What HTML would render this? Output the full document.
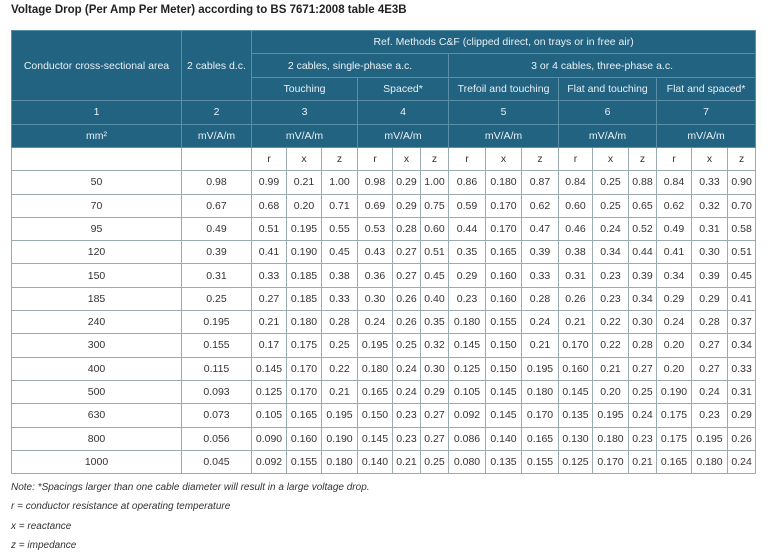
<!DOCTYPE html>
<html><head><meta charset="utf-8"><style>
body{margin:0;background:#fff;width:768px;height:555px;overflow:hidden;font-family:"Liberation Sans",sans-serif;color:#333;}
.title{position:absolute;left:11px;top:4px;font-size:11.5px;font-weight:bold;color:#222;}
table{position:absolute;left:11px;top:30px;border-collapse:collapse;table-layout:fixed;width:745px;font-size:10.5px;}
td{text-align:center;padding:0;white-space:nowrap;overflow:hidden;border:1px solid #9aabb0;}
tr.h td{background:#226382;color:#e8f0f4;border:1px solid #5b8fa8;}
tr.h{height:23.4px;}
tr.b{height:23.3px;}
.notes{position:absolute;left:11px;font-size:10px;font-style:italic;color:#333;}
</style></head><body>
<div class="title">Voltage Drop (Per Amp Per Meter) according to BS 7671:2008 table 4E3B</div>
<table>
<colgroup><col style="width:170px"><col style="width:70px"><col style="width:35px"><col style="width:35px"><col style="width:36px"><col style="width:35px"><col style="width:28px"><col style="width:28px"><col style="width:37px"><col style="width:36px"><col style="width:37px"><col style="width:34px"><col style="width:36px"><col style="width:28px"><col style="width:35px"><col style="width:36px"><col style="width:28px"></colgroup>
<tr class="h"><td rowspan="3">Conductor cross-sectional area</td><td rowspan="3">2 cables d.c.</td><td colspan="15">Ref. Methods C&amp;F (clipped direct, on trays or in free air)</td></tr>
<tr class="h"><td colspan="6">2 cables, single-phase a.c.</td><td colspan="9">3 or 4 cables, three-phase a.c.</td></tr>
<tr class="h"><td colspan="3">Touching</td><td colspan="3">Spaced*</td><td colspan="3">Trefoil and touching</td><td colspan="3">Flat and touching</td><td colspan="3">Flat and spaced*</td></tr>
<tr class="h"><td>1</td><td>2</td><td colspan="3">3</td><td colspan="3">4</td><td colspan="3">5</td><td colspan="3">6</td><td colspan="3">7</td></tr>
<tr class="h"><td>mm²</td><td>mV/A/m</td><td colspan="3">mV/A/m</td><td colspan="3">mV/A/m</td><td colspan="3">mV/A/m</td><td colspan="3">mV/A/m</td><td colspan="3">mV/A/m</td></tr>
<tr class="b"><td></td><td></td><td>r</td><td>x</td><td>z</td><td>r</td><td>x</td><td>z</td><td>r</td><td>x</td><td>z</td><td>r</td><td>x</td><td>z</td><td>r</td><td>x</td><td>z</td></tr>
<tr class="b"><td>50</td><td>0.98</td><td>0.99</td><td>0.21</td><td>1.00</td><td>0.98</td><td>0.29</td><td>1.00</td><td>0.86</td><td>0.180</td><td>0.87</td><td>0.84</td><td>0.25</td><td>0.88</td><td>0.84</td><td>0.33</td><td>0.90</td></tr>
<tr class="b"><td>70</td><td>0.67</td><td>0.68</td><td>0.20</td><td>0.71</td><td>0.69</td><td>0.29</td><td>0.75</td><td>0.59</td><td>0.170</td><td>0.62</td><td>0.60</td><td>0.25</td><td>0.65</td><td>0.62</td><td>0.32</td><td>0.70</td></tr>
<tr class="b"><td>95</td><td>0.49</td><td>0.51</td><td>0.195</td><td>0.55</td><td>0.53</td><td>0.28</td><td>0.60</td><td>0.44</td><td>0.170</td><td>0.47</td><td>0.46</td><td>0.24</td><td>0.52</td><td>0.49</td><td>0.31</td><td>0.58</td></tr>
<tr class="b"><td>120</td><td>0.39</td><td>0.41</td><td>0.190</td><td>0.45</td><td>0.43</td><td>0.27</td><td>0.51</td><td>0.35</td><td>0.165</td><td>0.39</td><td>0.38</td><td>0.34</td><td>0.44</td><td>0.41</td><td>0.30</td><td>0.51</td></tr>
<tr class="b"><td>150</td><td>0.31</td><td>0.33</td><td>0.185</td><td>0.38</td><td>0.36</td><td>0.27</td><td>0.45</td><td>0.29</td><td>0.160</td><td>0.33</td><td>0.31</td><td>0.23</td><td>0.39</td><td>0.34</td><td>0.39</td><td>0.45</td></tr>
<tr class="b"><td>185</td><td>0.25</td><td>0.27</td><td>0.185</td><td>0.33</td><td>0.30</td><td>0.26</td><td>0.40</td><td>0.23</td><td>0.160</td><td>0.28</td><td>0.26</td><td>0.23</td><td>0.34</td><td>0.29</td><td>0.29</td><td>0.41</td></tr>
<tr class="b"><td>240</td><td>0.195</td><td>0.21</td><td>0.180</td><td>0.28</td><td>0.24</td><td>0.26</td><td>0.35</td><td>0.180</td><td>0.155</td><td>0.24</td><td>0.21</td><td>0.22</td><td>0.30</td><td>0.24</td><td>0.28</td><td>0.37</td></tr>
<tr class="b"><td>300</td><td>0.155</td><td>0.17</td><td>0.175</td><td>0.25</td><td>0.195</td><td>0.25</td><td>0.32</td><td>0.145</td><td>0.150</td><td>0.21</td><td>0.170</td><td>0.22</td><td>0.28</td><td>0.20</td><td>0.27</td><td>0.34</td></tr>
<tr class="b"><td>400</td><td>0.115</td><td>0.145</td><td>0.170</td><td>0.22</td><td>0.180</td><td>0.24</td><td>0.30</td><td>0.125</td><td>0.150</td><td>0.195</td><td>0.160</td><td>0.21</td><td>0.27</td><td>0.20</td><td>0.27</td><td>0.33</td></tr>
<tr class="b"><td>500</td><td>0.093</td><td>0.125</td><td>0.170</td><td>0.21</td><td>0.165</td><td>0.24</td><td>0.29</td><td>0.105</td><td>0.145</td><td>0.180</td><td>0.145</td><td>0.20</td><td>0.25</td><td>0.190</td><td>0.24</td><td>0.31</td></tr>
<tr class="b"><td>630</td><td>0.073</td><td>0.105</td><td>0.165</td><td>0.195</td><td>0.150</td><td>0.23</td><td>0.27</td><td>0.092</td><td>0.145</td><td>0.170</td><td>0.135</td><td>0.195</td><td>0.24</td><td>0.175</td><td>0.23</td><td>0.29</td></tr>
<tr class="b"><td>800</td><td>0.056</td><td>0.090</td><td>0.160</td><td>0.190</td><td>0.145</td><td>0.23</td><td>0.27</td><td>0.086</td><td>0.140</td><td>0.165</td><td>0.130</td><td>0.180</td><td>0.23</td><td>0.175</td><td>0.195</td><td>0.26</td></tr>
<tr class="b"><td>1000</td><td>0.045</td><td>0.092</td><td>0.155</td><td>0.180</td><td>0.140</td><td>0.21</td><td>0.25</td><td>0.080</td><td>0.135</td><td>0.155</td><td>0.125</td><td>0.170</td><td>0.21</td><td>0.165</td><td>0.180</td><td>0.24</td></tr>
</table>
<div class="notes" style="top:482px">Note: *Spacings larger than one cable diameter will result in a large voltage drop.</div>
<div class="notes" style="top:501px">r = conductor resistance at operating temperature</div>
<div class="notes" style="top:521px">x = reactance</div>
<div class="notes" style="top:540px">z = impedance</div>
</body></html>
